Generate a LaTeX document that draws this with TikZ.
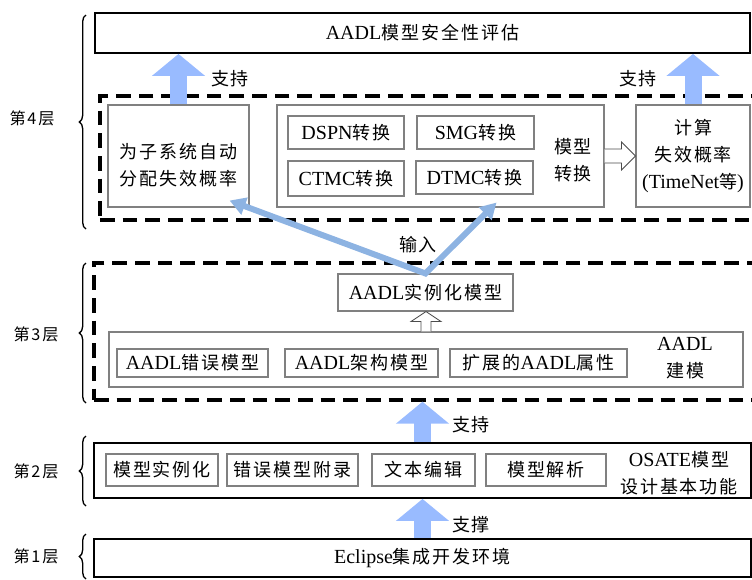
\documentclass[tikz,border=0pt]{standalone}
\usepackage{fontspec}
\setmainfont{Liberation Serif}
\newfontfamily\cjk[Scale=0.9,LetterSpace=11]{Noto Sans CJK SC}
\newcommand{\zh}[1]{{\cjk #1}}
\definecolor{supblue}{RGB}{153,187,255}
\definecolor{inblue}{RGB}{141,179,226}
\definecolor{boxgray}{RGB}{128,128,128}
\usetikzlibrary{arrows.meta, positioning, calc, decorations.pathreplacing}
\tikzset{
	txt/.style={inner sep=0pt, align=center, font=\fontsize{15}{20}\selectfont},
	boxsize/.style 2 args={minimum width=#1*0.75pt, minimum height=#2*0.75pt},
	mainbox/.style={txt, rectangle, draw=black, line width=1.4pt, fill=white},
	subbox/.style={txt, rectangle, draw=boxgray, line width=0.8pt, fill=white},
	layerframe/.style={rectangle, draw=black, line width=2.5pt, dash pattern=on 11pt off 6pt},
	layertag/.style={inner sep=0pt, font=\fontsize{13.5}{16}\selectfont\cjk},
	fatarrow/.style={draw=supblue, line width=12.75pt, -{Triangle[length=16.5pt, width=39pt]}},
	inarrow/.style={draw=inblue, line width=4.5pt, miter limit=20, {Triangle[length=12pt, width=13pt]}-{Triangle[length=12pt, width=13pt]}},
	hollow/.style={draw=black!70, line width=0.6pt, fill=white},
	layerbrace/.style={draw=black, line width=1pt, decorate, decoration={brace, amplitude=5pt}},
}

\begin{document}
\begin{tikzpicture}[x=0.75pt, y=-0.75pt]
	\useasboundingbox (0,0) rectangle (752,579);
	% layer 4
	\node[mainbox, boxsize={655}{40}] (top) at (422.5,33) {AADL\zh{模型安全性评估}};
	\node[layerframe, boxsize={656}{124}] (frame4) at (428,158) {};
	\node[subbox, boxsize={141}{102}] (sub) at (178.5,156) {};
	\node[txt] (subtxt) at (178.5,165) {\zh{为子系统自动}\\\zh{分配失效概率}};
	\node[subbox, boxsize={327}{102}] (trans) at (440.5,156) {};
	\node[subbox, boxsize={116}{33}] (dspn) at (346,132.5) {DSPN\zh{转换}};
	\node[subbox, boxsize={117}{33}] (smg) at (475.5,132.5) {SMG\zh{转换}};
	\node[subbox, boxsize={116}{35}] (ctmc) at (346,178.5) {CTMC\zh{转换}};
	\node[subbox, boxsize={117}{33}] (dtmc) at (474.5,177.5) {DTMC\zh{转换}};
	\node[txt] (transtxt) at (573,160) {\zh{模型}\\\zh{转换}};
	\node[subbox, boxsize={114}{102}] (calc) at (693,156) {\zh{计算}\\\zh{失效概率}\\(TimeNet\zh{等})};
	% layer 3
	\node[layerframe, boxsize={662}{137}] (frame3) at (425,331.5) {};
	\node[subbox, boxsize={175}{37}] (inst) at (425.5,292.5) {AADL\zh{实例化模型}};
	\node[subbox, boxsize={634}{55}] (model) at (426,359.5) {};
	\node[subbox, boxsize={151}{28}] (err) at (192.5,363) {AADL\zh{错误模型}};
	\node[subbox, boxsize={153}{28}] (arch) at (361.5,363) {AADL\zh{架构模型}};
	\node[subbox, boxsize={177}{28}] (ext) at (538.5,363) {\zh{扩展的}AADL\zh{属性}};
	\node[txt] (modeltxt) at (685,358) {AADL\\\zh{建模}};
	% layer 2
	\node[mainbox, boxsize={657}{55}] (osate) at (422.5,470.5) {};
	\node[subbox, boxsize={112}{32}] (instfn) at (162,470) {\zh{模型实例化}};
	\node[subbox, boxsize={131}{32}] (annex) at (292.5,470) {\zh{错误模型附录}};
	\node[subbox, boxsize={103}{32}] (edit) at (423.5,470) {\zh{文本编辑}};
	\node[subbox, boxsize={120}{32}] (parse) at (546,470) {\zh{模型解析}};
	\node[txt] (osatetxt) at (679,473) {OSATE\zh{模型}\\\zh{设计基本功能}};
	% layer 1
	\node[mainbox, boxsize={657}{38}] (eclipse) at (422.5,558) {Eclipse\zh{集成开发环境}};

	% arrows
	\draw[fatarrow] (sub.north) -- (sub.north |- top.south);
	\draw[fatarrow] (calc.north) -- (calc.north |- top.south);
	\draw[fatarrow] (osate.north) -- (osate.north |- frame3.south);
	\draw[fatarrow] (eclipse.north) -- (eclipse.north |- osate.south);
	\node[txt] (sup1) at (230,79) {\zh{支持}};
	\node[txt] (sup2) at (638,79) {\zh{支持}};
	\node[txt] (sup3) at (471,425) {\zh{支持}};
	\node[txt] (sup4) at (471,525) {\zh{支撑}};

	\coordinate (lefttip) at ($(sub.south east)+(-20,-7)$);
	\coordinate (righttip) at ($(dtmc.south)+(22,8)$);
	\draw[inarrow] (lefttip) -- (inst.north) -- (righttip);
	\node[txt] (input) at (418,245) {\zh{输入}};

	\draw[hollow] let \p1=(trans.east), \p2=(calc.west) in
		(\x1,\y1+5.25pt) -- (\x2-10.5pt,\y1+5.25pt) -- (\x2-10.5pt,\y1+10.5pt) -- (\x2,\y1)
		-- (\x2-10.5pt,\y1-10.5pt) -- (\x2-10.5pt,\y1-5.25pt) -- (\x1,\y1-5.25pt);
	\draw[hollow] let \p1=(model.north), \p2=(inst.south) in
		(\x1-3.75pt,\y1) -- (\x1-3.75pt,\y2-7.5pt) -- (\x1-11.25pt,\y2-7.5pt) -- (\x1,\y2)
		-- (\x1+11.25pt,\y2-7.5pt) -- (\x1+3.75pt,\y2-7.5pt) -- (\x1+3.75pt,\y1);

	% layer tags
	\node[layertag] (tag4) at (32,118) {第4层};
	\node[layertag] (tag3) at (36,334) {第3层};
	\node[layertag] (tag2) at (36,471) {第2层};
	\node[layertag] (tag1) at (36,556) {第1层};
	\draw[layerbrace] (86,229) -- (86,15);
	\draw[layerbrace] (86,403) -- (86,263);
	\draw[layerbrace] (86,506) -- (86,436);
	\draw[layerbrace] (86,579) -- (86,534);
\end{tikzpicture}
\end{document}
